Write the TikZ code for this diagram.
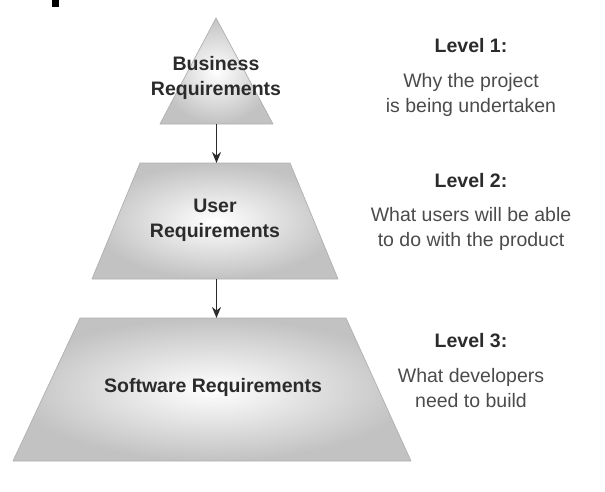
\documentclass[tikz,border=0pt]{standalone}
\usepackage{fontspec}
\setmainfont{Liberation Sans}
\usetikzlibrary{arrows.meta,positioning,calc}
\definecolor{inkgray}{HTML}{2B2B2B}
\definecolor{edgegray}{HTML}{B0B0B0}

\begin{document}
\begin{tikzpicture}[x=1pt,y=-1pt,
    levelfill/.style={inner color=white,outer color=black!24},
    leveledge/.style={draw=edgegray,line width=.7pt,line join=round},
    levelname/.style={font=\fontsize{19.5}{24.5}\selectfont\bfseries,text=inkgray,align=center,anchor=base,inner sep=0pt},
    leveltag/.style={font=\fontsize{19.5}{24}\selectfont\bfseries,text=inkgray,anchor=base,inner sep=0pt},
    leveldesc/.style={font=\fontsize{19.5}{24.5}\selectfont,text=inkgray!85,align=center,anchor=base,inner sep=0pt},
    flow/.style={draw=inkgray,line width=1.8pt,-{Stealth[length=11pt,width=9pt]}}]
  \useasboundingbox (0,0) rectangle (605,491);
  \fill[black] (52,0) rectangle (59,7);
  % level 1
  \coordinate (bizapex) at (216,18);
  \coordinate (bizleft) at (160,124);
  \coordinate (bizright) at (273,124);
  \shade[levelfill] (bizapex) -- (bizright) -- (bizleft) -- cycle;
  \draw[leveledge] (bizapex) -- (bizright) -- (bizleft) -- cycle;
  \node[levelname] (bizname) at (216,95) {Business\\Requirements};
  % level 2
  \coordinate (usrtl) at (140,163);
  \coordinate (usrtr) at (290,163);
  \coordinate (usrbr) at (338,279);
  \coordinate (usrbl) at (92,279);
  \shade[levelfill] (usrtl) -- (usrtr) -- (usrbr) -- (usrbl) -- cycle;
  \draw[leveledge] (usrtl) -- (usrtr) -- (usrbr) -- (usrbl) -- cycle;
  \node[levelname] (usrname) at (215,237) {User\\Requirements};
  % level 3
  \coordinate (swtl) at (80,318);
  \coordinate (swtr) at (346,318);
  \coordinate (swbr) at (411,461);
  \coordinate (swbl) at (13,461);
  \shade[levelfill] (swtl) -- (swtr) -- (swbr) -- (swbl) -- cycle;
  \draw[leveledge] (swtl) -- (swtr) -- (swbr) -- (swbl) -- cycle;
  \node[levelname] (swname) at (213,392) {Software Requirements};
  % arrows between levels
  \coordinate (bizfoot) at ($(bizleft)!.5!(bizright)$);
  \coordinate (usrhead) at (bizfoot |- usrtl);
  \coordinate (usrfoot) at (usrhead |- usrbl);
  \coordinate (swhead) at (usrfoot |- swtl);
  \draw[flow] (bizfoot) -- (usrhead);
  \draw[flow] (usrfoot) -- (swhead);
  % level notes
  \node[leveltag] (tagone) at (471,52) {Level 1:};
  \node[leveldesc] (descone) at (471,112) {Why the project\\is being undertaken};
  \node[leveltag] (tagtwo) at (471,187) {Level 2:};
  \node[leveldesc] (desctwo) at (471,246) {What users will be able\\to do with the product};
  \node[leveltag] (tagthree) at (471,347) {Level 3:};
  \node[leveldesc] (descthree) at (471,407) {What developers\\need to build};
\end{tikzpicture}
\end{document}
